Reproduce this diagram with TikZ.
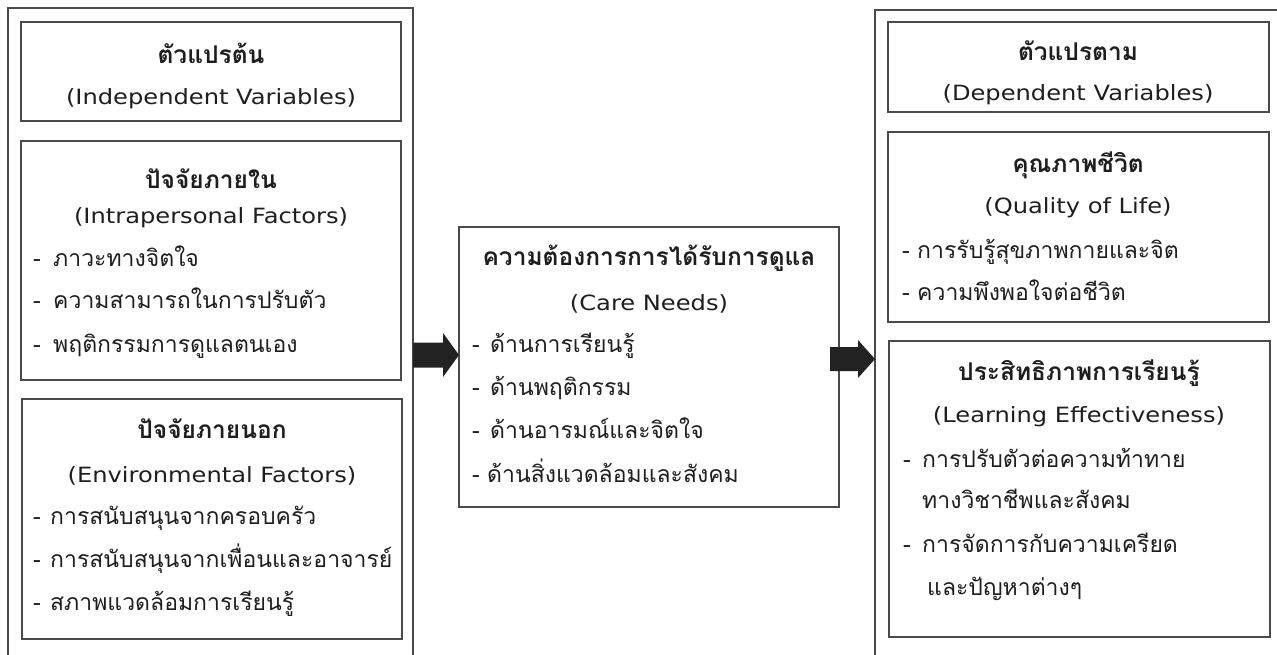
\documentclass[tikz,border=0pt]{standalone}
\usepackage{fontspec}
\setmainfont[Script=Thai]{Loma}
\newfontfamily\engfont[FakeStretch=1.15]{DejaVu Sans}
\usetikzlibrary{calc}
\definecolor{ln}{HTML}{4A4A4A}
\definecolor{tx}{HTML}{1E1E1E}
\definecolor{af}{HTML}{222222}
\begin{document}
\begin{tikzpicture}[x=1pt,y=-1pt,
  box/.style={draw=ln,line width=1.3pt,inner sep=0pt,outer sep=0pt,anchor=north west},
  ttl/.style={anchor=base,text=tx,inner sep=0pt,font=\fontsize{24.5}{30}\selectfont\bfseries},
  eng/.style={anchor=base,text=tx,inner sep=0pt,font=\engfont\fontsize{21}{25}\selectfont},
  itm/.style={anchor=base west,text=tx,inner sep=0pt,font=\fontsize{23}{28}\selectfont},
  arr/.style={fill=af,draw=none}]
\useasboundingbox (0,0) rectangle (1277,654);
\begin{scope}
\clip (0,0) rectangle (1277,654);
\node[box,minimum width=405pt,minimum height=680pt] (lo) at (8,8) {};
\node[box,minimum width=440pt,minimum height=680pt] (ro) at (875,10) {};
\end{scope}
% left boxes
\node[box,minimum width=380pt,minimum height=99pt] (la) at (21,22) {};
\node[box,minimum width=380pt,minimum height=239pt] (lb) at (21,141) {};
\node[box,minimum width=380pt,minimum height=240pt] (lc) at (22,399) {};
% middle
\node[box,minimum width=380pt,minimum height=280pt] (mid) at (459,227) {};
% right boxes
\node[box,minimum width=381pt,minimum height=90pt] (rd) at (888,22) {};
\node[box,minimum width=381pt,minimum height=190pt] (re) at (888,132) {};
\node[box,minimum width=381pt,minimum height=296pt] (rf) at (889,341) {};
% texts left
\node[ttl] (t1) at (211,63) {ตัวแปรต้น};
\node[eng] (e1) at (211,104) {(Independent Variables)};
\node[ttl] (t2) at (211,188) {ปัจจัยภายใน};
\node[eng] (e2) at (211,223) {(Intrapersonal Factors)};
\node[itm] (i21) at (33,266) {\makebox[20pt][l]{-}ภาวะทางจิตใจ};
\node[itm] (i22) at (33,308) {\makebox[20pt][l]{-}ความสามารถในการปรับตัว};
\node[itm] (i23) at (33,352) {\makebox[20pt][l]{-}พฤติกรรมการดูแลตนเอง};
\node[ttl] (t3) at (212,438) {ปัจจัยภายนอก};
\node[eng] (e3) at (212,482) {(Environmental Factors)};
\node[itm] (i31) at (33,524) {\makebox[17pt][l]{-}การสนับสนุนจากครอบครัว};
\node[itm] (i32) at (33,567) {\makebox[17pt][l]{-}การสนับสนุนจากเพื่อนและอาจารย์};
\node[itm] (i33) at (33,610) {\makebox[17pt][l]{-}สภาพแวดล้อมการเรียนรู้};
% middle texts
\node[ttl] (tm) at (649,265) {ความต้องการการได้รับการดูแล};
\node[eng] (em) at (649,310) {(Care Needs)};
\node[itm] (im1) at (472,352) {\makebox[18pt][l]{-}ด้านการเรียนรู้};
\node[itm] (im2) at (472,395) {\makebox[18pt][l]{-}ด้านพฤติกรรม};
\node[itm] (im3) at (472,438) {\makebox[18pt][l]{-}ด้านอารมณ์และจิตใจ};
\node[itm] (im4) at (472,482) {\makebox[15pt][l]{-}ด้านสิ่งแวดล้อมและสังคม};
% right texts
\node[ttl] (t4) at (1078,60) {ตัวแปรตาม};
\node[eng] (e4) at (1078,100) {(Dependent Variables)};
\node[ttl] (t5) at (1078,172) {คุณภาพชีวิต};
\node[eng] (e5) at (1078,213) {(Quality of Life)};
\node[itm] (i51) at (902,258) {\makebox[15pt][l]{-}การรับรู้สุขภาพกายและจิต};
\node[itm] (i52) at (902,300) {\makebox[15pt][l]{-}ความพึงพอใจต่อชีวิต};
\node[ttl] (t6) at (1079,380) {ประสิทธิภาพการเรียนรู้};
\node[eng] (e6) at (1079,422) {(Learning Effectiveness)};
\node[itm] (i61) at (903,467) {\makebox[19pt][l]{-}การปรับตัวต่อความท้าทาย};
\node[itm] (i62) at (922,508) {ทางวิชาชีพและสังคม};
\node[itm] (i63) at (903,552) {\makebox[19pt][l]{-}การจัดการกับความเครียด};
\node[itm] (i64) at (927,595) {และปัญหาต่างๆ};
% arrows
\coordinate (a1s) at (lo.north east |- 0,355);
\coordinate (a1e) at (mid.west |- a1s);
\coordinate (a2s) at ($(mid.east |- 0,359)+(-9,0)$);
\coordinate (a2e) at (ro.west |- a2s);
\fill[arr] ($(a1s)+(0,-12.5)$) -- ($(a1e)+(-16,-12.5)$) -- ($(a1e)+(-16,-22)$) -- (a1e)
  -- ($(a1e)+(-16,22)$) -- ($(a1e)+(-16,12.5)$) -- ($(a1s)+(0,12.5)$) -- cycle;
\fill[arr] ($(a2s)+(0,-12)$) -- ($(a2e)+(-17,-12)$) -- ($(a2e)+(-17,-19)$) -- (a2e)
  -- ($(a2e)+(-17,19)$) -- ($(a2e)+(-17,12)$) -- ($(a2s)+(0,12)$) -- cycle;
\end{tikzpicture}
\end{document}
